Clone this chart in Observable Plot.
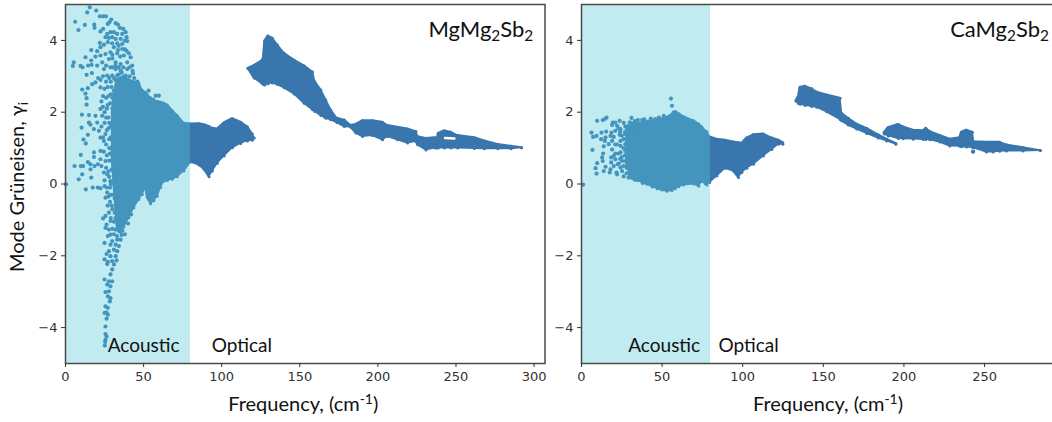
<!DOCTYPE html>
<html><head><meta charset="utf-8">
<script src="https://cdn.jsdelivr.net/npm/d3@7"></script>
<script src="https://cdn.jsdelivr.net/npm/@observablehq/plot@0.6"></script>
<style>
html,body{margin:0;padding:0;background:#fff;overflow:hidden;width:1052px;height:422px}
#wrap{position:relative;width:1052px;height:422px;overflow:hidden}
#wrap svg{position:absolute;top:0;background:transparent;overflow:visible}
</style></head><body><div id="wrap"></div>
<script>
const bandEnd = 80;
const xTicksLeft = [0,50,100,150,200,250,300];
const xTicksRight = [0,50,100,150,200,250];
const yTicks = [-4,-2,0,2,4];

// MgMg2Sb2: dense envelope, acoustic mass + first optical lobe
const mgLowF  = [30,31,33.1,35.3,37.4,40.6,43.8,47,49.2,51.3,52.4,54.5,56.6,58.8,60.9,63,65.2,68.4,71.6,75.9,80.1,85.5,88.7,91.9,94.1,97.3,101.6,106.9,112.2,116.5,119.7,120.7];
const mgLowHi = [2.0,2.5,2.9,2.95,3.0,2.9,2.85,2.8,2.6,2.55,2.49,2.4,2.3,2.3,2.28,2.25,2.2,2.04,1.9,1.69,1.67,1.68,1.65,1.6,1.55,1.53,1.7,1.82,1.72,1.59,1.39,1.28];
const mgLowLo = [0.6,0.0,-1.2,-1.35,-1.2,-0.94,-0.66,-0.43,-0.29,-0.08,-0.38,-0.55,-0.47,-0.34,-0.1,0.08,0.1,0.13,0.2,0.36,0.61,0.53,0.41,0.2,0.36,0.58,0.78,1.01,1.13,1.2,1.22,1.28];

// MgMg2Sb2: high-frequency optical island
const mgHighF  = [116.9,120.8,125.5,126.7,127.6,129.7,132.5,135.7,140,146.4,152.8,158.2,159.7,163.5,166.7,169.9,173.8,178.5,182.7,186,190.2,196.6,203,206.2,212.6,219,224.4,225.5,230.8,236.6,237.9,238.7,242.6,246.8,251.1,261.8,268.2,276.8,285.3,292];
const mgHighHi = [3.22,3.3,3.42,3.5,3.98,4.12,4.06,3.87,3.64,3.45,3.29,3.12,2.85,2.62,2.34,2.06,1.83,1.78,1.63,1.66,1.76,1.76,1.72,1.63,1.58,1.53,1.46,1.32,1.27,1.29,1.23,1.41,1.48,1.44,1.35,1.29,1.2,1.1,1.05,1.01];
const mgHighLo = [3.22,2.95,2.81,2.77,2.76,2.79,2.81,2.77,2.68,2.51,2.25,2.07,2.02,1.91,1.83,1.79,1.71,1.6,1.58,1.42,1.32,1.35,1.23,1.32,1.23,1.14,1.18,1.09,0.95,1,1,1,1,1,1,0.99,0.98,0.98,0.98,1.01];
// small empty loop inside the Mg tail
const mgHoleF = [243,249];
const mgHoleG = [1.28,1.27];

// MgMg2Sb2: separately readable modes
const mgScatter = [
[15.6,4.92],[13.9,4.78],[19.7,4.83],[22,4.67],[24.1,4.67],[25.9,4.67],[6.2,4.52],[12.4,4.43],[8.3,4.29],[18.4,4.44],[18.6,4.35],[29.3,4.58],[28.2,4.51],[27.1,4.46],[32.1,4.48],[33.6,4.44],[22.4,4.25],[24.1,4.32],[34.8,4.35],[37,4.32],[38.5,4.23],[26.7,4.18],[28.8,4.23],[31,4.23],[33.1,4.18],[36.3,4.18],[39.1,4.09],[25.6,4.09],[27.8,4.07],[29.9,4.09],[32.1,4.04],[35.3,4.04],[37.8,3.99],[39.5,3.98],[22,3.93],[24.6,3.88],[27.1,3.95],[29.9,3.92],[33.1,3.92],[36.3,3.9],[22.4,3.81],[20.3,3.7],[16.5,3.73],[31,3.81],[33.6,3.73],[36.3,3.76],[39.1,3.71],[40.6,3.64],[12.8,3.53],[16.5,3.44],[19.2,3.55],[22.4,3.58],[25.6,3.62],[28.8,3.67],[33.1,3.64],[37.4,3.58],[41.7,3.53],[5.3,3.39],[4.7,3.29],[9.6,3.29],[10.9,3.25],[14.5,3.3],[16.7,3.32],[20.3,3.3],[23.5,3.39],[27.8,3.48],[32.1,3.39],[35.3,3.34],[39.5,3.39],[42.7,3.3],[24.6,3.2],[28.8,3.25],[32.1,3.2],[35.3,3.16],[39.5,3.2],[43.2,3.08],[13.5,3.04],[16.9,3.09],[20.9,2.95],[22.4,2.9],[26.7,3.02],[29.9,3.02],[33.1,3.02],[38.5,3.02],[10.7,2.63],[14.3,2.67],[12.8,2.52],[17.1,2.78],[19.2,2.83],[13.5,2.39],[22.4,2.69],[13.5,2.21],[48.1,2.62],[53.2,2.6],[57.7,2.46],[59.8,2.46],[56.2,2.35],[58.8,2.27],[10.5,1.93],[15,1.92],[19.2,1.9],[22.4,2.09],[10.3,1.57],[15,1.71],[16,1.65],[20.3,1.71],[23.5,1.9],[11.5,1.24],[14.3,1.37],[18.2,1.53],[21.4,1.48],[13,1.13],[22.4,1.29],[25.6,1.39],[24.6,1.2],[9.8,0.81],[18.2,0.88],[18.2,0.75],[14.3,0.61],[16,0.55],[22.4,0.92],[22.4,0.69],[5.8,0.5],[9.8,0.5],[11.3,0.5],[18.6,0.5],[20.7,0.55],[25.6,0.64],[16,0.41],[10.7,0.27],[8.5,0.13],[16.5,0.18],[24.6,0.32],[26.7,0.27],[13,-0.15],[17.5,-0.1],[20.7,-0.1],[22.4,-0.12],[25,-0.06],[28.8,0.08],[0.4,-0.01],[26.7,-0.24],[32.1,-0.15],[25.6,-0.38],
[27.8,-0.8],[25.6,-0.89],[24.1,-0.96],[28.8,-1.03],[26.3,-1.13],[27.8,-1.27],[25.6,-1.22],[28.8,-1.41],[27.1,-1.45],[32.1,-1.27],[34.2,-1.31],[35.7,-1.03],[33.1,-1.55],[35.3,-1.55],[29.9,-1.59],[25,-1.64],[32.1,-1.69],[28.8,-1.69],[34.2,-1.73],[31,-1.83],[27.8,-1.87],[33.1,-1.87],[26.3,-1.95],[28.8,-2.01],[32.1,-2.01],[25,-2.1],[27.1,-2.17],[29.9,-2.15],[32.7,-2.13],[26.7,-2.23],[31,-2.24],[29.9,-2.38],[28.8,-2.52],[25,-2.66],[27.8,-2.71],[29.9,-2.71],[26.7,-2.8],[28.8,-2.85],[25.6,-3.01],[27.8,-2.99],[27.1,-3.13],[28.8,-3.18],[28.4,-3.27],[25.6,-3.41],[27.1,-3.45],[26.3,-3.58],[25,-3.59],[27.1,-3.64],[26.3,-3.75],[25.6,-3.97],[25.6,-4.18],[26.3,-4.25],[25.6,-4.34],[25.2,-4.5],[25.4,-4.4]
];
// MgMg2Sb2: modes at the left rim of the dense mass
const mgRim = [
[23,1.6],[24,1.3],[23,0.5],[25,2.0],[25,1.7],[24.5,0.9],[26,2.4],[26,1.1],[27,2.7],[27,2.2],[27.5,1.85],[27.5,1.55],[28,0.65],[28,1.0],[28,0.2],[28.5,-0.1],[28.5,-0.5],[27,-0.6],[29,2.85],[29,2.5],[29,1.3],[29.5,0.4],[30,-0.3],[30,-0.7],[30,1.7],[30,2.1],[31,2.6],[31,1.0],[31,0.1],[32,-0.6],[32,-0.95],[33,2.8],[33,0.6],[29,-0.95],[30,-1.25],[31,-1.05],[38,-1.4],[36.5,-1.3],[40,-1.1],[42,-0.85],[31,2.95],[34,3.05],[36,3.1],[41,3.0],[44,2.95],[46,2.85],[28,2.95],[25,2.65],[24,2.45],[26,1.85],[26,0.45],[26.5,-0.1],[25,0.1],
[26.5,2.1],[26.5,1.5],[26.5,0.8],[27.5,2.45],[28,1.25],[28,1.7],[28.5,2.25],[28.5,0.85],[29,1.6],[29,1.0],[29,0.0],[29,-0.3],[29.5,2.7],[27.5,0.35],[27.5,-0.35],[29.5,-0.6],[31,-1.4],[33,-1.45],[36,-1.42],[30,2.4],[30,1.3],[30,0.8],[31,1.5],[31,2.0],[31.5,0.5],[31.5,-0.4],[31.5,-0.8],[30,3.25],[32,3.3],[34,3.25],[37,3.25],[41,3.25],[43,3.15],[30,3.5],[35,3.55],[26,3.3],[24,3.0],[26,2.85],[24,2.15],[23,2.3],[38,3.75],[34,3.85],[30,3.6],[32,2.9]
];

// CaMg2Sb2: dense envelope, acoustic mass + first optical lobe
const caLowF  = [28,30,31.4,34.5,40.7,46.9,53,56.1,58.2,60.3,63.4,69.6,72.7,74.7,76.8,77.8,79.5,84,89.2,94.3,97.4,99.5,102.6,106.7,112.9,118.1,122.2,124.9];
const caLowHi = [1.3,1.55,1.67,1.67,1.73,1.78,1.85,1.93,2.02,1.96,1.87,1.76,1.67,1.59,1.48,1.45,1.31,1.25,1.22,1.17,1.15,1.13,1.28,1.37,1.39,1.28,1.22,1.15];
const caLowLo = [0.55,0.3,0.15,0.1,-0.01,-0.13,-0.2,-0.18,-0.13,-0.08,-0.03,0,-0.06,0.07,0.01,-0.03,0.04,0.22,0.44,0.36,0.18,0.32,0.44,0.55,0.78,0.96,1.11,1.11];

// CaMg2Sb2: optical islands
const caMidF  = [133.1,134.6,135.6,138.7,142.8,145.9,152.1,160.4,161.4,165.5,170.7,176.9,184.1,189.3,195];
const caMidHi = [2.32,2.44,2.69,2.72,2.65,2.56,2.48,2.39,1.97,1.83,1.67,1.55,1.37,1.25,1.13];
const caMidLo = [2.31,2.24,2.22,2.19,2.16,2.14,2.01,1.8,1.76,1.64,1.53,1.41,1.28,1.2,1.11];
const caHighF  = [187.8,190.3,196.5,199.6,205.8,212,213.6,216.1,222.3,228.5,234.7,235.7,238.8,242.5,243.3,251.2,255.3,259.4,263.6,273.9,284.6];
const caHighHi = [1.43,1.57,1.66,1.59,1.5,1.48,1.55,1.46,1.35,1.25,1.29,1.44,1.5,1.44,1.18,1.16,1.16,1.16,1.09,1.01,0.93];
const caHighLo = [1.39,1.34,1.27,1.26,1.25,1.24,1.24,1.23,1.17,1.06,1.05,1.04,1.03,1.02,1.01,0.89,0.89,0.91,0.92,0.92,0.93];

// CaMg2Sb2: separately readable modes
const caScatter = [
[55.5,2.38],[56.1,2.18],[57.2,1.99],[58.8,1.96],[9.7,1.76],[13.2,1.78],[15.5,1.85],[14.5,1.81],[19.4,1.71],[21,1.71],[23.7,1.76],[31,1.84],[37.6,1.78],[45.8,1.81],[41.7,1.74],[26.2,1.7],[19,1.64],[22.1,1.62],[27.2,1.6],[31.4,1.67],[34.5,1.71],[6.2,1.43],[7.2,1.31],[9.3,1.34],[12.4,1.43],[15.3,1.46],[18.6,1.43],[21,1.48],[24.2,1.53],[28.3,1.53],[32.4,1.53],[12.2,1.25],[14.9,1.3],[18,1.34],[20,1.31],[23.7,1.37],[27.2,1.39],[30.3,1.43],[16.9,1.11],[14.5,1.2],[19,1.2],[24.2,1.2],[26.2,1.25],[29.3,1.2],[13.8,1.05],[19,0.96],[24.2,1.06],[27.2,1.11],[30.3,1],[6.8,0.95],[13.4,0.85],[20,0.78],[24.2,0.88],[27.2,0.92],[29.3,0.74],[12.8,0.74],[18.4,0.74],[21,0.69],[25.2,0.64],[9.7,0.58],[13.2,0.64],[18.4,0.6],[23.1,0.57],[27.2,0.64],[8.7,0.44],[14.9,0.48],[20,0.5],[24.2,0.46],[9.3,0.29],[13.8,0.36],[17.5,0.32],[18,0.41],[21.7,0.32],[25.2,0.36],[1,-0.02],[22.1,0.27],[26.2,0.21],[29.3,0.18],[28,0.3],[29.5,0.5],[30,0.9],[29.5,1.05],[28,0.8],[242.9,0.9]
];
const caRim = [
[22,1.1],[23,0.85],[24,0.7],[25,1.35],[26,1.0],[26,0.5],[27,1.45],[27,0.8],[28,0.45],[29,1.62],[29,0.3],[30,1.72],[30,0.22],[24,1.45],[25,0.75],[22.5,0.55],[23,1.55],[21,1.1],[21,0.85],[33,1.75],[35,1.78],[39,1.8],[43,1.82],[48,1.85],[51,1.9],[31,0.2],[33,0.12],[38,0.03],[44,-0.07],[50,-0.15]
];

const dotColor = "#3976ae";
const bandColor = "rgb(86,201,217)";

function tspanize(svg){
  // turn _{x} and ^{x} in plain labels into true sub/superscripts
  svg.querySelectorAll("text").forEach(t => {
    const host = t.querySelector("tspan") || t;
    const s = host.textContent;
    if(!/[_^]/.test(s)) return;
    host.textContent = "";
    const parts = s.split(/([_^]\{[^}]*\})/);
    const ns = "http://www.w3.org/2000/svg";
    let back = 0;
    parts.forEach(p => {
      if(!p) return;
      const e = document.createElementNS(ns,"tspan");
      const m = p.match(/^([_^])\{(.*)\}$/);
      if(m){
        const d = m[1]==="_" ? 4 : -7;
        e.textContent = m[2];
        e.setAttribute("dy", d - back);
        e.setAttribute("font-size","70%");
        back = d;
      } else {
        e.textContent = p;
        if(back) e.setAttribute("dy", -back);
        back = 0;
      }
      host.appendChild(e);
    });
  });
}

function panel({left,width,marginLeft,marginRight,xDomain,xTicks,bands,scatter,hole,title,titleX,acX,opX,yLabel,xLabelDx}){
  const rows = (f,h,l)=>f.map((v,i)=>({f:v,h:h[i],l:l[i]}));
  const rim = bands.flatMap(b=>rows(...b).flatMap(r=>[[r.f,r.h],[r.f,r.l]]));
  const labelFont = "Lato, Carlito, 'Open Sans', sans-serif";
  const marks = [
    ...bands.map(b=>Plot.areaY(rows(...b),{x:"f",y1:"l",y2:"h",fill:dotColor,stroke:dotColor,strokeWidth:2,curve:"linear"})),
    Plot.dot(rim,{x:d=>d[0],y:d=>d[1],r:1.5,fill:dotColor,stroke:null}),
    Plot.dot(scatter,{x:d=>d[0],y:d=>d[1],r:2.1,fill:dotColor,stroke:null}),
    hole ? Plot.lineY(hole[0].map((v,i)=>[v,hole[1][i]]),{x:d=>d[0],y:d=>d[1],stroke:"#fff",strokeWidth:2.5}) : null,
    Plot.rectX([bandEnd],{x1:0,x2:d=>d,y1:-5,y2:5,fill:bandColor,fillOpacity:0.374}),
    Plot.frame({stroke:"#4a4a4a",strokeWidth:1.5}),
    Plot.axisX({ticks:xTicks,tickSize:4,tickPadding:4,label:null,fontSize:13,fontFamily:"DejaVu Sans",color:"#333",stroke:"#333"}),
    Plot.axisY({ticks:yTicks,tickSize:4,tickPadding:4,label:null,fontSize:13,fontFamily:"DejaVu Sans",color:"#333",stroke:"#333"}),
    Plot.text([title],{x:titleX,y:4.3,text:d=>d,textAnchor:"end",fontSize:22,fontFamily:labelFont,fill:"#111"}),
    Plot.text(["Acoustic"],{x:acX,y:-4.52,text:d=>d,textAnchor:"start",fontSize:19,fontFamily:labelFont,fill:"#111"}),
    Plot.text(["Optical"],{x:opX,y:-4.52,text:d=>d,textAnchor:"start",fontSize:19,fontFamily:labelFont,fill:"#111"}),
    Plot.text(["Frequency, (cm^{-1})"],{frameAnchor:"bottom",dy:47,dx:xLabelDx,text:d=>d,fontSize:20,fontFamily:labelFont,fill:"#111"})
  ];
  if(yLabel) marks.push(Plot.text([yLabel],{frameAnchor:"left",dx:-48,dy:3,rotate:-90,textAnchor:"middle",text:d=>d,fontSize:20,fontFamily:labelFont,fill:"#111"}));
  const svg = Plot.plot({
    width,height:422,marginLeft,marginRight,marginTop:4,marginBottom:59,
    style:{background:"transparent",overflow:"visible"},
    x:{domain:xDomain,label:null},
    y:{domain:[-5,5],label:null},
    marks
  });
  svg.style.left = left+"px";
  tspanize(svg);
  document.getElementById("wrap").appendChild(svg);
}

panel({left:0,width:552,marginLeft:65,marginRight:7.5,xDomain:[0,307],xTicks:xTicksLeft,
  bands:[[mgLowF,mgLowHi,mgLowLo],[mgHighF,mgHighHi,mgHighLo]],scatter:mgScatter.concat(mgRim),hole:[mgHoleF,mgHoleG],
  title:"MgMg_{2}Sb_{2}",titleX:299.5,acX:27,opX:93.6,yLabel:"Mode Grüneisen, γ_{i}",xLabelDx:-2});
panel({left:552,width:505,marginLeft:29,marginRight:3,xDomain:[0,293.4],xTicks:xTicksRight,
  bands:[[caLowF,caLowHi,caLowLo],[caMidF,caMidHi,caMidLo],[caHighF,caHighHi,caHighLo]],scatter:caScatter.concat(caRim),
  title:"CaMg_{2}Sb_{2}",titleX:290,acX:29,opX:85,yLabel:null,xLabelDx:10});
</script></body></html>
